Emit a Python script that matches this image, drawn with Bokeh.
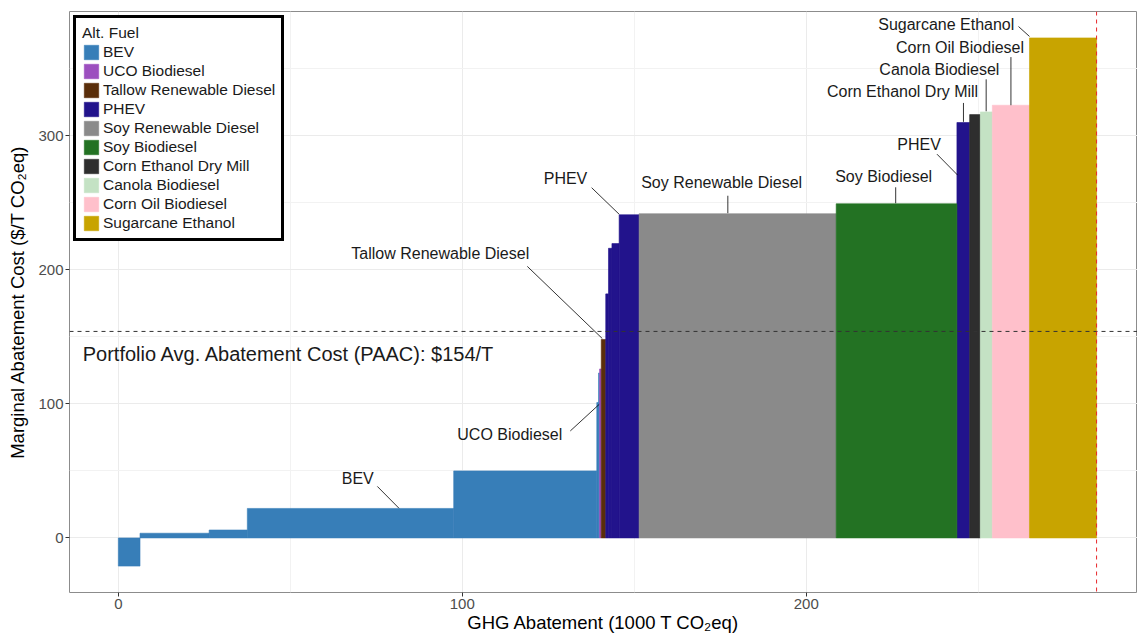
import numpy as np
from bokeh.plotting import figure
from bokeh.models import Range1d, FixedTicker, Span, Legend, LegendItem, ColumnDataSource
from bokeh.core.properties import value
from bokeh.embed import file_html
from bokeh.resources import INLINE

# Marginal abatement cost curve: one step per fuel pathway, sorted by cost
fuel = ["BEV", "BEV", "BEV", "BEV", "BEV", "BEV", "BEV",
        "UCO Biodiesel", "Tallow Renewable Diesel",
        "PHEV", "PHEV", "PHEV", "PHEV",
        "Soy Renewable Diesel", "Soy Biodiesel", "PHEV",
        "Corn Ethanol Dry Mill", "Canola Biodiesel", "Corn Oil Biodiesel",
        "Sugarcane Ethanol"]
abatement = [6.3, 20.1, 11.1, 60.0, 41.6, 0.5, 0.3,
             0.5, 1.3,
             0.8, 1.0, 2.1, 5.8,
             57.3, 35.1, 3.7,
             3.1, 3.5, 10.8,
             19.5]
cost = [-21, 3.5, 5.9, 22, 50, 101, 123,
        126, 148,
        182, 216, 219.5, 241,
        241.8, 249.2, 309.8,
        315.7, 317.7, 322.7,
        372.9]

fuel_order = ["BEV", "UCO Biodiesel", "Tallow Renewable Diesel", "PHEV",
              "Soy Renewable Diesel", "Soy Biodiesel", "Corn Ethanol Dry Mill",
              "Canola Biodiesel", "Corn Oil Biodiesel", "Sugarcane Ethanol"]
fuel_colors = ["#377EB8", "#9C4FBF", "#5A2E0A", "#22138C", "#8A8A8A",
               "#237223", "#2E2E2E", "#C4E2C4", "#FFC0CB", "#C8A400"]

paac = 154
x_ticks = [0, 100, 200]
y_ticks = [0, 100, 200, 300]

FONT = "Liberation Sans"

right = np.cumsum(abatement)
left = right - np.array(abatement)
cost_arr = np.array(cost)
bottom = np.minimum(cost_arr, 0)
top = np.maximum(cost_arr, 0)
fuel_arr = np.array(fuel)
total = right[-1]

p = figure(width=1137, height=635, output_backend="svg", toolbar_location=None,
           x_range=Range1d(-14.2, 296.3), y_range=Range1d(-40.7, 392.6),
           min_border_left=69, min_border_right=0, min_border_top=11,
           min_border_bottom=42, background_fill_color="white",
           border_fill_color="white")

items = []
for name, col in zip(fuel_order, fuel_colors):
    m = fuel_arr == name
    src = ColumnDataSource(dict(left=left[m], right=right[m],
                                bottom=bottom[m], top=top[m]))
    r = p.quad(left="left", right="right", bottom="bottom", top="top",
               source=src, fill_color=col, line_color=col, line_width=0.6)
    items.append(LegendItem(label=name, renderers=[r]))

# Portfolio average and total abatement reference lines
p.add_layout(Span(location=paac, dimension="width", line_color="#333333",
                  line_width=1, line_dash="4 4"))
p.add_layout(Span(location=total, dimension="height", line_color="#E8282B",
                  line_width=1, line_dash="4 4"))

# Repelled labels with leader lines
lab_text = ["BEV", "UCO Biodiesel", "Tallow Renewable Diesel", "PHEV",
            "Soy Renewable Diesel", "Soy Biodiesel", "PHEV",
            "Corn Ethanol Dry Mill", "Canola Biodiesel", "Corn Oil Biodiesel",
            "Sugarcane Ethanol"]
lab_x = [69.6, 113.8, 93.6, 130.0, 175.4, 222.5, 232.8, 228.0, 238.7, 244.7, 240.7]
lab_y = [44.6, 77.3, 211.9, 268.2, 264.9, 269.4, 293.7, 333.3, 349.2, 365.6, 382.9]
seg_x0 = [75.3, 131.4, 118.9, 137.6, 177.2, 226.0, 238.0, 245.7, 252.3, 259.5, 261.7]
seg_y0 = [38.4, 79.8, 202.5, 261.2, 255.2, 261.5, 286.2, 324.4, 342.0, 358.6, 381.4]
seg_x1 = [81.6, 139.8, 140.7, 145.6, 177.2, 226.0, 244.0, 245.7, 252.3, 259.5, 264.9]
seg_y1 = [22.1, 99.6, 148.7, 241.4, 242.2, 249.6, 270.6, 310.3, 318.2, 322.7, 374.0]

p.segment(x0=seg_x0, y0=seg_y0, x1=seg_x1, y1=seg_y1,
          line_color="black", line_width=0.8)
p.text(x=lab_x, y=lab_y, text=lab_text, text_font=value(FONT),
       text_font_size=value("16px"), text_align="center",
       text_baseline="middle", text_color="#1a1a1a")

p.text(x=[-10.35], y=[136.8],
       text=[f"Portfolio Avg. Abatement Cost (PAAC): ${paac}/T"],
       text_font=value(FONT), text_font_size=value("20px"),
       text_align="left", text_baseline="middle", text_color="#1a1a1a")

# Axes
p.xaxis.ticker = FixedTicker(ticks=x_ticks, minor_ticks=[50, 150, 250])
p.yaxis.ticker = FixedTicker(ticks=y_ticks, minor_ticks=[50, 150, 250, 350])
p.xaxis.axis_label = "GHG Abatement (1000 T CO\u2082eq)"
p.yaxis.axis_label = "Marginal Abatement Cost ($/T CO\u2082eq)"
for ax in (p.xaxis, p.yaxis):
    ax.axis_label_text_font = FONT
    ax.axis_label_text_font_size = "18.5px"
    ax.axis_label_text_font_style = "normal"
    ax.axis_label_text_color = "black"
    ax.major_label_text_font = FONT
    ax.major_label_text_font_size = "15px"
    ax.major_label_text_color = "#4D4D4D"
    ax.axis_line_color = None
    ax.major_tick_line_color = "#333333"
    ax.major_tick_out = 4
    ax.major_tick_in = 0
    ax.minor_tick_line_color = None
    ax.major_label_standoff = 2
p.xaxis.axis_label_standoff = 0
p.yaxis.axis_label_standoff = 7

p.xgrid.grid_line_color = "#EBEBEB"
p.ygrid.grid_line_color = "#EBEBEB"
p.xgrid.minor_grid_line_color = "#F2F2F2"
p.ygrid.minor_grid_line_color = "#F2F2F2"
p.outline_line_color = "#8C8C8C"
p.outline_line_width = 1

legend = Legend(items=items, location="top_left", title="Alt. Fuel",
                title_text_font=FONT, title_text_font_size="15.5px",
                title_text_font_style="normal", title_text_color="#1a1a1a",
                title_standoff=1,
                label_text_font=FONT, label_text_font_size="15.5px",
                label_text_color="#1a1a1a",
                glyph_width=18, glyph_height=18, label_height=18,
                spacing=1, padding=6, margin=4, label_standoff=3,
                border_line_color="black", border_line_width=3,
                border_line_alpha=1.0,
                background_fill_color="white", background_fill_alpha=1)
p.add_layout(legend)

open("out.html", "w").write(file_html(p, INLINE))
